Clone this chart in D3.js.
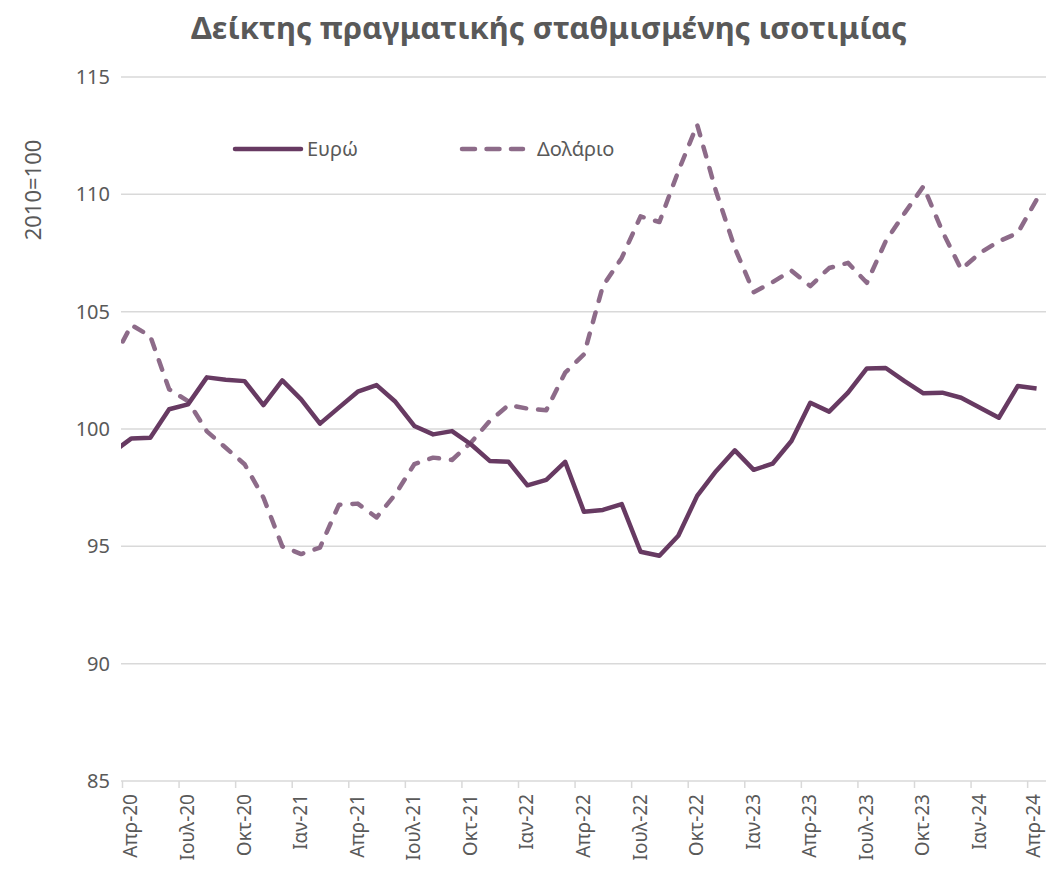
<!DOCTYPE html>
<html>
<head>
<meta charset="utf-8">
<script src="https://cdn.jsdelivr.net/npm/d3@7"></script>
<style>
  body { margin: 0; background: #fff; }
  svg { font-family: "Noto Sans", "Open Sans", sans-serif; }
</style>
</head>
<body>
<div id="chart"></div>
<script>
// Months: index -1 = Μαρ-20 (cut off at the axis edge), 0 = Απρ-20 ... 48 = Απρ-24
const startIndex = -1;

const euro = [99.0, 99.6, 99.63, 100.84, 101.05, 102.2, 102.1, 102.04, 101.02, 102.07, 101.26, 100.23,
    100.91, 101.59, 101.87, 101.16, 100.13, 99.77, 99.91, 99.35, 98.64, 98.6, 97.6, 97.83,
    98.6, 96.47, 96.55, 96.8, 94.77, 94.6, 95.45, 97.15, 98.2, 99.09, 98.26, 98.52,
    99.49, 101.12, 100.74, 101.55, 102.58, 102.6, 102.04, 101.52, 101.55, 101.33, 100.91, 100.48,
    101.83, 101.73];

const dollar = [102.9, 104.43, 103.96, 101.69, 101.19, 99.9, 99.2, 98.5, 97.08, 95.0, 94.67, 94.95,
    96.77, 96.82, 96.23, 97.22, 98.5, 98.78, 98.68, 99.42, 100.34, 101.02, 100.87, 100.8,
    102.4, 103.18, 106.09, 107.29, 109.06, 108.82, 110.98, 112.97, 110.13, 107.71, 105.83, 106.26,
    106.75, 106.09, 106.86, 107.08, 106.23, 108.0, 109.2, 110.34, 108.43, 106.8, 107.5, 108.0,
    108.35, 109.77];

const tickLabels = ["Απρ-20", "Ιουλ-20", "Οκτ-20", "Ιαν-21", "Απρ-21", "Ιουλ-21", "Οκτ-21", "Ιαν-22",
    "Απρ-22", "Ιουλ-22", "Οκτ-22", "Ιαν-23", "Απρ-23", "Ιουλ-23", "Οκτ-23", "Ιαν-24", "Απρ-24"];

const yTicks = [85, 90, 95, 100, 105, 110, 115];

const seriesNames = ["Ευρώ", "Δολάριο"];

const width = 1046, height = 869;
const margin = { top: 77, right: 0, bottom: 88, left: 122 };
const nMonths = 49;

const euroColor = "#673a62";
const dollarColor = "#8d6b89";
const textColor = "#595959";

const svg = d3.select("#chart").append("svg")
    .attr("width", width)
    .attr("height", height);

const x = d3.scaleLinear()
    .domain([-0.5, nMonths - 0.5])
    .range([margin.left, width - margin.right]);

const y = d3.scaleLinear()
    .domain([85, 115])
    .range([height - margin.bottom, margin.top]);

// Title
svg.append("text")
    .attr("x", 549)
    .attr("y", 39)
    .attr("text-anchor", "middle")
    .style("font-size", "31px")
    .style("font-weight", "bold")
    .style("fill", textColor)
    .text("Δείκτης πραγματικής σταθμισμένης ισοτιμίας");

// Gridlines
svg.append("g")
    .selectAll("line")
    .data(yTicks.slice(1))
    .enter()
    .append("line")
    .attr("x1", margin.left - 1)
    .attr("x2", width)
    .attr("y1", d => y(d))
    .attr("y2", d => y(d))
    .attr("stroke", "#d9d9d9")
    .attr("stroke-width", 1.5);

// Y axis labels
svg.append("g")
    .selectAll("text")
    .data(yTicks)
    .enter()
    .append("text")
    .attr("x", 110)
    .attr("y", d => y(d))
    .attr("dy", "0.35em")
    .attr("text-anchor", "end")
    .style("font-size", "20px")
    .style("fill", textColor)
    .text(d => d);

svg.append("text")
    .attr("transform", `translate(41, 190) rotate(-90)`)
    .attr("text-anchor", "middle")
    .style("font-size", "22px")
    .style("fill", textColor)
    .text("2010=100");

// X axis
const tickIdx = d3.range(0, nMonths, 3);
const xAxis = d3.axisBottom(x)
    .tickValues(tickIdx.map(i => i - 0.5))
    .tickSize(7)
    .tickFormat("");

const xg = svg.append("g")
    .attr("transform", `translate(0,${y(85)})`)
    .call(xAxis);
xg.select(".domain").attr("stroke", "#d9d9d9").attr("stroke-width", 1.5).attr("d", `M${margin.left - 1},0H${width}`);
xg.selectAll(".tick line").attr("stroke", "#d9d9d9").attr("stroke-width", 1.5);

// rotated month labels, last one kept inside the page edge
svg.append("g")
    .selectAll("text")
    .data(tickIdx)
    .enter()
    .append("text")
    .attr("transform", d => `translate(${Math.min(x(d) + 6, width - 6)}, ${y(85) + 13}) rotate(-90)`)
    .attr("text-anchor", "end")
    .style("font-size", "19px")
    .style("fill", textColor)
    .text((d, i) => tickLabels[i]);

// Clip
svg.append("clipPath")
    .attr("id", "plot-clip")
    .append("rect")
    .attr("x", margin.left - 1)
    .attr("y", 0)
    .attr("width", width - margin.left + 1)
    .attr("height", height);

const line = d3.line()
    .x((d, i) => x(i + startIndex))
    .y(d => y(d));

const plot = svg.append("g").attr("clip-path", "url(#plot-clip)");

plot.append("path")
    .datum(dollar)
    .attr("d", line)
    .attr("fill", "none")
    .attr("stroke", dollarColor)
    .attr("stroke-width", 4.5)
    .attr("stroke-linecap", "round")
    .attr("stroke-linejoin", "round")
    .attr("stroke-dasharray", "10,12");

plot.append("path")
    .datum(euro)
    .attr("d", line)
    .attr("fill", "none")
    .attr("stroke", euroColor)
    .attr("stroke-width", 4.5)
    .attr("stroke-linejoin", "round");

// Legend
const legend = svg.append("g");
legend.append("line")
    .attr("x1", 235).attr("x2", 301)
    .attr("y1", 149).attr("y2", 149)
    .attr("stroke", euroColor)
    .attr("stroke-width", 4.5)
    .attr("stroke-linecap", "round");
legend.append("text")
    .attr("x", 307).attr("y", 149)
    .attr("dy", "0.35em")
    .style("font-size", "20px")
    .style("fill", textColor)
    .text(seriesNames[0]);

legend.append("line")
    .attr("x1", 462).attr("x2", 523)
    .attr("y1", 149).attr("y2", 149)
    .attr("stroke", dollarColor)
    .attr("stroke-width", 4.5)
    .attr("stroke-linecap", "round")
    .attr("stroke-dasharray", "13,11.5");
legend.append("text")
    .attr("x", 537).attr("y", 149)
    .attr("dy", "0.35em")
    .style("font-size", "20px")
    .style("fill", textColor)
    .text(seriesNames[1]);
</script>
</body>
</html>
